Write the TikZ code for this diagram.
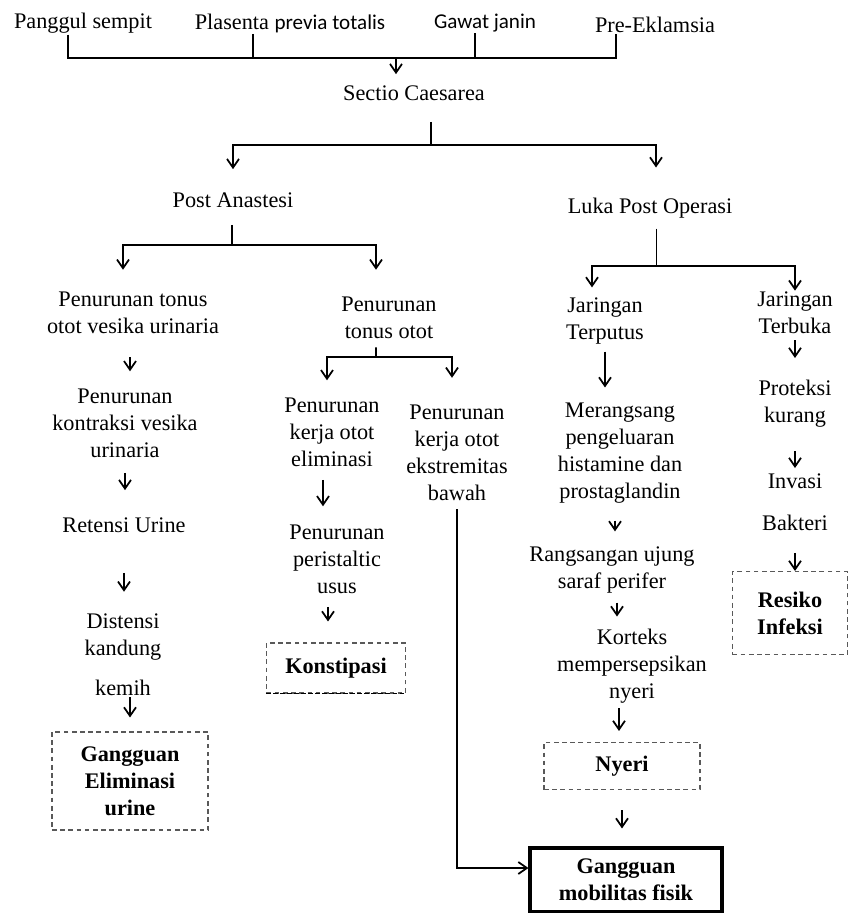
\documentclass[tikz,border=0pt]{standalone}
\usepackage{fontspec}
\setmainfont{Liberation Serif}
\newfontfamily\calibfont{Carlito}
\usetikzlibrary{arrows.meta,positioning}

\begin{document}
\begin{tikzpicture}[x=0.03cm,y=-0.03cm,
    txt/.style={align=center,inner sep=1pt,font=\fontsize{19}{23}\selectfont},
    dbox/.style={txt,draw=black!65,dashed,dash pattern=on 4pt off 3pt,line width=0.9pt,font=\fontsize{19}{23}\selectfont\bfseries},
    mbox/.style={txt,draw=black,line width=2.6pt,font=\fontsize{19}{23}\selectfont\bfseries},
    conn/.style={line width=1.5pt},
    arr/.style={conn,-{Straight Barb[length=2.6mm,width=3.6mm]}}
]
\useasboundingbox (0,0) rectangle (851,913);

% Indications (top)
\node[txt] (pan) at (83,23) {Panggul sempit};
\node[txt] (pla) at (290,23) {Plasenta {\calibfont\fontsize{18}{22}\selectfont previa totalis}};
\node[txt,font=\calibfont\fontsize{18}{22}\selectfont] (gaw) at (485,23) {Gawat janin};
\node[txt] (pre) at (655,25) {Pre-Eklamsia};
\node[txt] (sc) at (414,93) {Sectio Caesarea};
\coordinate (bus) at (396,58);

\draw[conn] ([xshift=-0.45cm]pan.south) |- (bus) -| ([xshift=-1.17cm]pre.south);
\draw[conn] ([xshift=-1.11cm]pla.south) -- ([xshift=-1.11cm]pla.south |- bus);
\draw[conn] ([xshift=-0.3cm]gaw.south) -- ([xshift=-0.3cm]gaw.south |- bus);
\draw[arr,shorten >=0.3cm] (bus) -- (bus |- sc.north);

% Sectio Caesarea split
\node[txt] (pa) at (233,200) {Post Anastesi};
\node[txt] (lpo) at (650,208) {Luka Post Operasi};
\coordinate (sc-br) at (431,145);

\draw[conn,shorten <=0.6cm] (sc.south -| sc-br) -- (sc-br);
\draw[arr,shorten >=0.66cm] (sc-br) -| (pa.north);
\draw[arr,shorten >=0.87cm] (sc-br) -| ([xshift=0.18cm]lpo.north);

% Post Anastesi (left)
\node[txt] (ptv) at (133,313) {Penurunan tonus\\otot vesika urinaria};
\node[txt] (pto) at (389,318) {Penurunan\\tonus otot};
\node[txt] (pkv) at (125,423) {Penurunan\\kontraksi vesika\\urinaria};
\node[txt] (ru) at (124,525) {Retensi Urine};
\node[txt] (dkk) at (123,655) {Distensi\\kandung\\[11pt]kemih};
\node[dbox,minimum width=4.68cm,minimum height=2.94cm] (gel) at (130,781) {Gangguan\\Eliminasi\\urine};
\node[txt] (pke) at (332,432) {Penurunan\\kerja otot\\eliminasi};
\node[txt] (pps) at (337,559) {Penurunan\\peristaltic\\usus};
\node[dbox,minimum width=4.17cm,minimum height=1.5cm] (kon) at (336,668) {Konstipasi};
\node[txt] (pkb) at (457,453) {Penurunan\\kerja otot\\ekstremitas\\bawah};
\node[mbox,minimum width=5.76cm,minimum height=1.92cm] (gmf) at (626,880) {Gangguan\\mobilitas fisik};
\coordinate (pa-br) at (232,245);
\coordinate (pto-br) at (376,357);

\draw[conn,shorten <=0.48cm] (pa.south -| pa-br) -- (pa-br);
\draw[arr,shorten >=0.63cm] (pa-br) -| ([xshift=-0.3cm]ptv.north);
\draw[arr,shorten >=0.78cm] (pa-br) -| ([xshift=-0.39cm]pto.north);
\draw[arr,shorten <=0.66cm,shorten >=0.48cm] ([xshift=-0.09cm]ptv.south) -- ([xshift=-0.09cm]ptv.south |- pkv.north);
\draw[arr,shorten <=0.42cm,shorten >=0.78cm] (pkv.south) -- (pkv.south |- ru.north);
\draw[arr,shorten <=1.17cm,shorten >=0.63cm] (ru.south) -- (ru.south |- dkk.north);
\draw[arr,shorten >=0.42cm] ([xshift=0.21cm]dkk.south) -- ([xshift=0.21cm]dkk.south |- gel.north);

\draw[conn,shorten <=0.21cm] ([xshift=-0.39cm]pto.south) -- (pto-br);
\draw[arr,shorten >=0.48cm] (pto-br) -| ([xshift=-0.15cm]pke.north);
\draw[arr,shorten >=0.78cm] (pto-br) -| ([xshift=-0.15cm]pkb.north);
\draw[arr,shorten <=0.36cm,shorten >=0.51cm] ([xshift=-0.27cm]pke.south) -- ([xshift=-0.27cm]pke.south |- pps.north);
\draw[arr,shorten <=0.36cm,shorten >=0.63cm] ([xshift=-0.27cm]pps.south) -- ([xshift=-0.27cm]pps.south |- kon.north);
\draw[dashed,dash pattern=on 4pt off 2pt,line width=1.6pt] (kon.south west) -- (kon.south east);
\draw[arr,shorten <=0.21cm] (pkb.south) |- ([yshift=0.36cm]gmf.west);

% Luka Post Operasi (right)
\node[txt] (jtp) at (605,321) {Jaringan\\Terputus};
\node[txt] (jtb) at (795,313) {Jaringan\\Terbuka};
\node[txt] (mer) at (620,453) {Merangsang\\pengeluaran\\histamine dan\\prostaglandin};
\node[txt] (rang) at (612,570) {Rangsangan ujung\\saraf perifer};
\node[txt] (kor) at (632,666) {Korteks\\mempersepsikan\\nyeri};
\node[dbox,minimum width=4.68cm,minimum height=1.41cm] (nye) at (622,766) {Nyeri};
\node[txt] (pro) at (795,404) {Proteksi\\kurang};
\node[txt] (inv) at (795,502) {Invasi\\[13pt]Bakteri};
\node[dbox,minimum width=3.45cm,minimum height=2.49cm] (res) at (790,613) {Resiko\\Infeksi};
\coordinate (lpo-br) at (656,266);

\draw[conn,line width=0.8pt,shorten <=0.27cm] (lpo.south -| lpo-br) -- (lpo-br);
\draw[arr,shorten >=0.27cm] (lpo-br) -| ([xshift=-0.39cm]jtp.north);
\draw[arr] (lpo-br) -| (jtb.north);
\draw[arr,shorten <=0.18cm,shorten >=0.42cm] (jtp.south) -- (jtp.south |- mer.north);
\draw[arr,shorten <=0.48cm,shorten >=0.42cm] ([xshift=-0.15cm]mer.south) -- ([xshift=-0.15cm]mer.south |- rang.north);
\draw[arr,shorten <=0.24cm,shorten >=0.33cm] ([xshift=0.15cm]rang.south) -- ([xshift=0.15cm]rang.south |- kor.north);
\draw[arr,shorten <=0.12cm,shorten >=0.33cm] ([xshift=-0.39cm]kor.south) -- ([xshift=-0.39cm]kor.south |- nye.north);
\draw[arr,shorten <=0.6cm,shorten >=0.54cm] (nye.south) -- (nye.south |- gmf.north);
\draw[arr,shorten <=0.15cm,shorten >=0.63cm] (jtb.south) -- (jtb.south |- pro.north);
\draw[arr,shorten <=0.66cm,shorten >=0.12cm] (pro.south) -- (pro.south |- inv.north);
\draw[arr,shorten <=0.63cm] (inv.south) -- (inv.south |- res.north);

\end{tikzpicture}
\end{document}
